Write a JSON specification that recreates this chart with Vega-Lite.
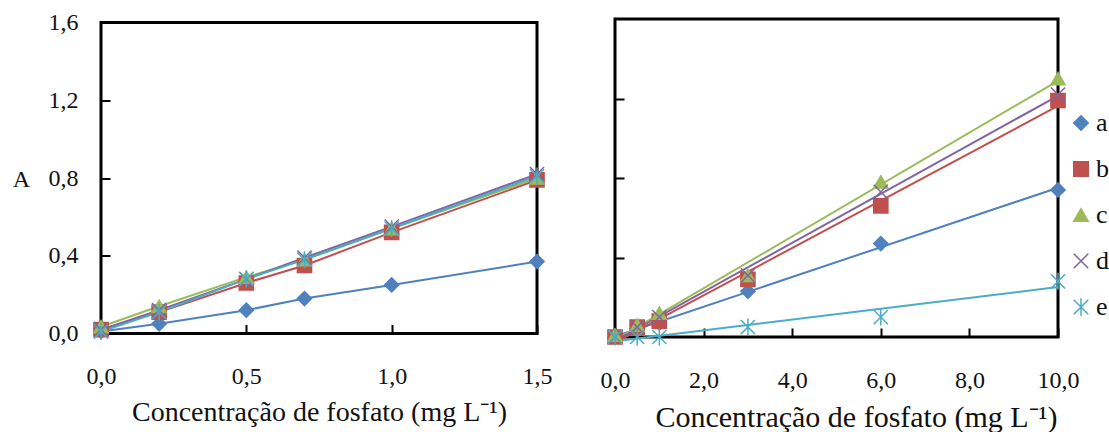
{
  "$schema": "https://vega.github.io/schema/vega-lite/v6.json",
  "background": "white",
  "padding": {"left": 10, "top": 9, "right": 0, "bottom": 0},
  "config": {
    "font": "Liberation Serif, serif",
    "view": {"stroke": "black", "strokeWidth": 3},
    "axis": {
      "domain": false,
      "grid": false,
      "ticks": true,
      "tickColor": "black",
      "tickWidth": 2,
      "tickSize": -9,
      "labelFlush": false,
      "labelFont": "Liberation Serif, serif",
      "labelColor": "#111",
      "labelFontSize": 24,
      "titleFont": "Liberation Serif, serif",
      "titleColor": "#111",
      "titleFontWeight": "normal",
      "titleFontSize": 28
    },
    "legend": {
      "padding": 0,
      "labelFont": "Liberation Serif, serif",
      "labelColor": "#111",
      "labelFontSize": 26,
      "labelOffset": 2,
      "symbolSize": 210,
      "symbolStrokeWidth": 1.5,
      "rowPadding": 20
    }
  },
  "datasets": {
    "baixa": [
      {"serie": "a", "C": 0, "A": 0.01}, {"serie": "a", "C": 0.2, "A": 0.05}, {"serie": "a", "C": 0.5, "A": 0.12},
      {"serie": "a", "C": 0.7, "A": 0.18}, {"serie": "a", "C": 1.0, "A": 0.25}, {"serie": "a", "C": 1.5, "A": 0.37},
      {"serie": "b", "C": 0, "A": 0.02}, {"serie": "b", "C": 0.2, "A": 0.11}, {"serie": "b", "C": 0.5, "A": 0.26},
      {"serie": "b", "C": 0.7, "A": 0.35}, {"serie": "b", "C": 1.0, "A": 0.52}, {"serie": "b", "C": 1.5, "A": 0.79},
      {"serie": "c", "C": 0, "A": 0.035}, {"serie": "c", "C": 0.2, "A": 0.14}, {"serie": "c", "C": 0.5, "A": 0.29},
      {"serie": "c", "C": 0.7, "A": 0.38}, {"serie": "c", "C": 1.0, "A": 0.54}, {"serie": "c", "C": 1.5, "A": 0.80},
      {"serie": "d", "C": 0, "A": 0.02}, {"serie": "d", "C": 0.2, "A": 0.12}, {"serie": "d", "C": 0.5, "A": 0.28},
      {"serie": "d", "C": 0.7, "A": 0.39}, {"serie": "d", "C": 1.0, "A": 0.55}, {"serie": "d", "C": 1.5, "A": 0.82},
      {"serie": "e", "C": 0, "A": 0.01}, {"serie": "e", "C": 0.2, "A": 0.11}, {"serie": "e", "C": 0.5, "A": 0.28},
      {"serie": "e", "C": 0.7, "A": 0.38}, {"serie": "e", "C": 1.0, "A": 0.54}, {"serie": "e", "C": 1.5, "A": 0.81}
    ],
    "alta": [
      {"serie": "a", "C": 0, "A": 0.0}, {"serie": "a", "C": 0.5, "A": 0.04}, {"serie": "a", "C": 1, "A": 0.07},
      {"serie": "a", "C": 3, "A": 0.23}, {"serie": "a", "C": 6, "A": 0.47}, {"serie": "a", "C": 10, "A": 0.74},
      {"serie": "b", "C": 0, "A": 0.0}, {"serie": "b", "C": 0.5, "A": 0.05}, {"serie": "b", "C": 1, "A": 0.08},
      {"serie": "b", "C": 3, "A": 0.29}, {"serie": "b", "C": 6, "A": 0.66}, {"serie": "b", "C": 10, "A": 1.19},
      {"serie": "c", "C": 0, "A": 0.01}, {"serie": "c", "C": 0.5, "A": 0.06}, {"serie": "c", "C": 1, "A": 0.12},
      {"serie": "c", "C": 3, "A": 0.31}, {"serie": "c", "C": 6, "A": 0.78}, {"serie": "c", "C": 10, "A": 1.30},
      {"serie": "d", "C": 0, "A": 0.0}, {"serie": "d", "C": 0.5, "A": 0.05}, {"serie": "d", "C": 1, "A": 0.10},
      {"serie": "d", "C": 3, "A": 0.31}, {"serie": "d", "C": 6, "A": 0.73}, {"serie": "d", "C": 10, "A": 1.22},
      {"serie": "e", "C": 0, "A": 0.0}, {"serie": "e", "C": 0.5, "A": 0.0}, {"serie": "e", "C": 1, "A": 0.0},
      {"serie": "e", "C": 3, "A": 0.05}, {"serie": "e", "C": 6, "A": 0.10}, {"serie": "e", "C": 10, "A": 0.28}
    ]
  },
  "bounds": "flush",
  "spacing": 78,
  "center": true,
  "resolve": {
    "scale": {"x": "independent", "y": "independent", "fill": "independent", "stroke": "independent", "shape": "independent"},
    "legend": {"fill": "independent", "stroke": "independent", "shape": "independent"}
  },
  "hconcat": [
    {
      "width": 436,
      "height": 311,
      "data": {"name": "baixa"},
      "encoding": {
        "x": {
          "field": "C", "type": "quantitative",
          "scale": {"domain": [0, 1.5], "nice": false},
          "axis": {
            "values": [0, 0.5, 1, 1.5],
            "labelExpr": "replace(format(datum.value, '.1f'), '.', ',')",
            "labelPadding": 40,
            "title": "Concentração de fosfato (mg L⁻¹)",
            "titlePadding": 10
          }
        },
        "y": {
          "field": "A", "type": "quantitative",
          "scale": {"domain": [0, 1.6], "nice": false},
          "axis": {
            "values": [0, 0.4, 0.8, 1.2, 1.6],
            "labelExpr": "replace(format(datum.value, '.1f'), '.', ',')",
            "labelPadding": 32,
            "title": "A",
            "titleAngle": 0,
            "titleX": -80,
            "titleY": 157,
            "titleAlign": "center",
            "titleBaseline": "middle",
            "titleFontSize": 24
          }
        }
      },
      "layer": [
        {
          "mark": {"type": "line", "strokeWidth": 2},
          "encoding": {
            "stroke": {"field": "serie", "type": "nominal", "legend": null,
              "scale": {"domain": ["a", "b", "c", "d", "e"], "range": ["#4F81BD", "#C0504D", "#9BBB59", "#8064A2", "#4BACC6"]}}
          }
        },
        {
          "mark": {"type": "point", "size": 200, "opacity": 1, "strokeWidth": 1.5},
          "encoding": {
            "fill": {"field": "serie", "type": "nominal", "legend": null,
              "scale": {"domain": ["a", "b", "c", "d", "e"], "range": ["#4F81BD", "#C0504D", "#9BBB59", "transparent", "transparent"]}},
            "stroke": {"field": "serie", "type": "nominal", "legend": null,
              "scale": {"domain": ["a", "b", "c", "d", "e"], "range": ["#4F81BD", "#C0504D", "#9BBB59", "#8064A2", "#4BACC6"]}},
            "shape": {"field": "serie", "type": "nominal", "legend": null,
              "scale": {"domain": ["a", "b", "c", "d", "e"], "range": ["diamond", "square", "triangle-up", "M-1,-1L1,1M-1,1L1,-1", "M-1,-1L1,1M-1,1L1,-1M0,-1.2L0,1.2"]}}
          }
        }
      ]
    },
    {
      "width": 443,
      "height": 318,
      "data": {"name": "alta"},
      "encoding": {
        "x": {
          "field": "C", "type": "quantitative",
          "scale": {"domain": [0, 10], "nice": false},
          "axis": {
            "values": [0, 2, 4, 6, 8, 10],
            "labelExpr": "replace(format(datum.value, '.1f'), '.', ',')",
            "labelPadding": 40,
            "title": "Concentração de fosfato (mg L⁻¹)",
            "titlePadding": 10,
            "titleFontSize": 30,
            "titleX": 241,
            "titleAlign": "center"
          }
        },
        "y": {
          "field": "A", "type": "quantitative",
          "scale": {"domain": [0, 1.6], "nice": false},
          "axis": {"values": [0.4, 0.8, 1.2], "labels": false, "title": null}
        }
      },
      "layer": [
        {
          "transform": [{"filter": "datum.serie === 'a'"}, {"regression": "A", "on": "C", "extent": [0, 10]}],
          "mark": {"type": "line", "strokeWidth": 2, "color": "#4F81BD"},
          "encoding": {}
        },
        {
          "transform": [{"filter": "datum.serie === 'b'"}, {"regression": "A", "on": "C", "extent": [0, 10]}],
          "mark": {"type": "line", "strokeWidth": 2, "color": "#C0504D"},
          "encoding": {}
        },
        {
          "transform": [{"filter": "datum.serie === 'c'"}, {"regression": "A", "on": "C", "extent": [0, 10]}],
          "mark": {"type": "line", "strokeWidth": 2, "color": "#9BBB59"},
          "encoding": {}
        },
        {
          "transform": [{"filter": "datum.serie === 'd'"}, {"regression": "A", "on": "C", "extent": [0, 10]}],
          "mark": {"type": "line", "strokeWidth": 2, "color": "#8064A2"},
          "encoding": {}
        },
        {
          "transform": [{"filter": "datum.serie === 'e'"}, {"regression": "A", "on": "C", "extent": [0, 10]}],
          "mark": {"type": "line", "strokeWidth": 2, "color": "#4BACC6"},
          "encoding": {}
        },
        {
          "mark": {"type": "point", "size": 200, "opacity": 1, "strokeWidth": 1.5},
          "encoding": {
            "fill": {"field": "serie", "type": "nominal",
              "scale": {"domain": ["a", "b", "c", "d", "e"], "range": ["#4F81BD", "#C0504D", "#9BBB59", "transparent", "transparent"]},
              "legend": {"orient": "none", "legendX": 453, "legendY": 91, "title": null}},
            "stroke": {"field": "serie", "type": "nominal",
              "scale": {"domain": ["a", "b", "c", "d", "e"], "range": ["#4F81BD", "#C0504D", "#9BBB59", "#8064A2", "#4BACC6"]},
              "legend": {"orient": "none", "legendX": 453, "legendY": 91, "title": null}},
            "shape": {"field": "serie", "type": "nominal",
              "scale": {"domain": ["a", "b", "c", "d", "e"], "range": ["diamond", "square", "triangle-up", "M-1,-1L1,1M-1,1L1,-1", "M-1,-1L1,1M-1,1L1,-1M0,-1.2L0,1.2"]},
              "legend": {"orient": "none", "legendX": 453, "legendY": 91, "title": null}}
          }
        }
      ]
    }
  ]
}
